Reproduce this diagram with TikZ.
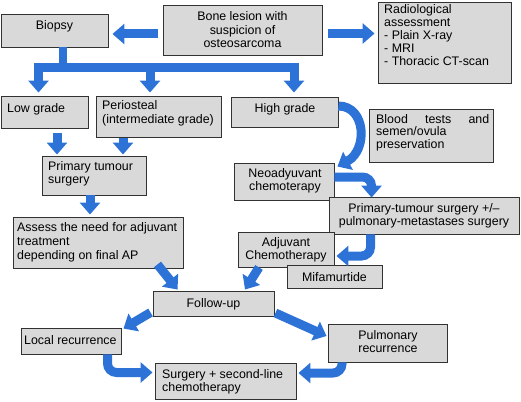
\documentclass[tikz,border=0pt]{standalone}
\usepackage{fontspec}
\setmainfont{Liberation Sans}
\usetikzlibrary{arrows.meta,fit,calc}
\definecolor{boxfill}{RGB}{217,217,217}
\definecolor{boxline}{RGB}{50,50,50}
\definecolor{arrblue}{RGB}{45,115,215}
\begin{document}
\begin{tikzpicture}[x=1pt,y=-1pt,
  box/.style={draw=boxline, fill=boxfill, line width=0.9pt, inner sep=0pt},
  txt/.style={inner sep=0pt, font=\fontsize{12.4}{13.5}\selectfont},
  barrow/.style={draw=arrblue, line width=9pt, -{Triangle[width=20pt,length=12pt]}},
  bband/.style={draw=arrblue, line width=9pt},
]
\useasboundingbox (0,0) rectangle (521,401);
% boxes
\node[box, fit={(163,5)(322,55)}] (bone) {};
\node[box, fit={(1,14)(108,47)}] (biopsy) {};
\node[box, fit={(378,2)(511,83)}] (radio) {};
\node[box, fit={(1,96)(88,128)}] (low) {};
\node[box, fit={(96,96)(221,137)}] (peri) {};
\node[box, fit={(231,97)(338,127)}] (high) {};
\node[box, fit={(369,109)(493,162)}] (blood) {};
\node[box, fit={(234,163)(334,200)}] (neo) {};
\node[box, fit={(329,197)(519,234)}] (pts) {};
\node[box, fit={(238,232)(334,267)}] (adj) {};
\node[box, fit={(287,265)(382,288)}] (mif) {};
\node[box, fit={(42,156)(146,195)}] (prim) {};
\node[box, fit={(13,217)(183,268)}] (assess) {};
\node[box, fit={(153,291)(274,316)}] (follow) {};
\node[box, fit={(21,328)(121,354)}] (local) {};
\node[box, fit={(328,324)(447,362)}] (pulm) {};
\node[box, fit={(155,363)(296,399)}] (surg) {};
% texts (anchor=base is the baseline of the last line)
\node[txt, anchor=base] (tbiopsy) at (54.5,30) {Biopsy};
\node[txt, anchor=base, align=center] (tbone) at (242.5,48) {Bone lesion with\\suspicion of\\osteosarcoma};
\node[txt, anchor=base west, align=left, font=\fontsize{12.4}{12.8}\selectfont] (tradio) at (384,65.2) {Radiological\\assessment\\- Plain X-ray\\- MRI\\- Thoracic CT-scan};
\node[txt, anchor=base west] (tlow) at (7,113) {Low grade};
\node[txt, anchor=base west, align=left] (tperi) at (102,123.5) {Periosteal\\(intermediate grade)};
\node[txt, anchor=base] (thigh) at (285,112) {High grade};
\node[txt, anchor=base west, align=left, font=\fontsize{12.4}{12.8}\selectfont] (tblood) at (376,148.6) {\makebox[113pt][s]{Blood tests and}\\semen/ovula\\preservation};
\node[txt, anchor=base, align=center] (tneo) at (285,190.5) {Neoadyuvant\\chemoterapy};
\node[txt, anchor=base, align=center] (tpts) at (424,225.5) {Primary-tumour surgery +/–\\pulmonary-metastases surgery};
\node[txt, anchor=base, align=center] (tadj) at (286,259.5) {Adjuvant\\Chemotherapy};
\node[txt, anchor=base] (tmif) at (334.5,281) {Mifamurtide};
\node[txt, anchor=base] (tfollow) at (213.5,307) {Follow-up};
\node[txt, anchor=base west, align=left, font=\fontsize{12.4}{14}\selectfont] (tassess) at (17,259) {Assess the need for adjuvant\\treatment\\depending on final AP};
\node[txt, anchor=base west, align=left] (tprim) at (48,183.5) {Primary tumour\\surgery};
\node[txt, anchor=base west] (tlocal) at (24,344) {Local recurrence};
\node[txt, anchor=base, align=center] (tpulm) at (388,352.5) {Pulmonary\\recurrence};
\node[txt, anchor=base west, align=left] (tsurg) at (162,391.5) {Surgery + second-line\\chemotherapy};
% arrows
\draw[barrow] ($(bone.west)+(-5,4)$) -- ($(bone.west -| biopsy.east)+(4,4)$);
\draw[barrow] ($(bone.east)+(6,3.5)$) -- ($(bone.east -| radio.west)+(-3,3.5)$);
% biopsy split
\coordinate (split) at ($(biopsy.south)+(8.5,20.5)$);
\draw[bband, line width=8pt] ($(biopsy.south)+(8.5,0)$) -- (split);
\draw[bband] ($(split)+(-29,0)$) -- ($(split)+(236,0)$);
\draw[barrow] ($(low.north)+(-6,-26)$) -- ($(low.north)+(-6,-3)$);
\draw[barrow] ($(peri.north)+(-8.5,-26)$) -- ($(peri.north)+(-8.5,-3)$);
\draw[barrow] ($(high.north)+(9.5,-27)$) -- ($(high.north)+(9.5,-4)$);
% left column
\draw[barrow] ($(low.south)+(12.5,5)$) -- ($(prim.north)+(-37,-1)$);
\draw[barrow] ($(peri.south)+(-35.5,1)$) -- ($(prim.north)+(29,-1)$);
\draw[barrow] ($(prim.south)+(-4,0)$) -- ($(assess.north)+(-8,-2)$);
% right column
\draw[barrow] ($(high.east)+(0,-6)$) .. controls (366,106) and (368,150) .. ($(neo.east)+(3,-15)$);
\draw[barrow, rounded corners=9pt] ($(neo.east)+(0,-4.5)$) -| ($(pts.north west)+(43,1)$);
\draw[barrow, rounded corners=9pt] ($(pts.south west)+(42,0)$) |- ($(adj.east)+(2,6.5)$);
% to follow-up
\draw[barrow] ($(assess.south east)+(-26,-4)$) -- ($(follow.north west)+(25,-1)$);
\draw[barrow] ($(adj.south)+(-27,0)$) -- ($(follow.north)+(31.5,-1)$);
% from follow-up
\draw[barrow] ($(follow.west)+(-2,9)$) -- ($(local.north east)+(2,1)$);
\draw[barrow] ($(follow.east)+(1,9.5)$) -- ($(pulm.west)+(-1,-7)$);
% to surgery
\draw[barrow, rounded corners=9pt] ($(local.south)+(36.5,0)$) |- ($(surg.west)+(-2,-8.5)$);
\draw[barrow, rounded corners=9pt] ($(pulm.south)+(-45.5,0)$) |- ($(surg.east)+(2,-8)$);
\end{tikzpicture}
\end{document}
